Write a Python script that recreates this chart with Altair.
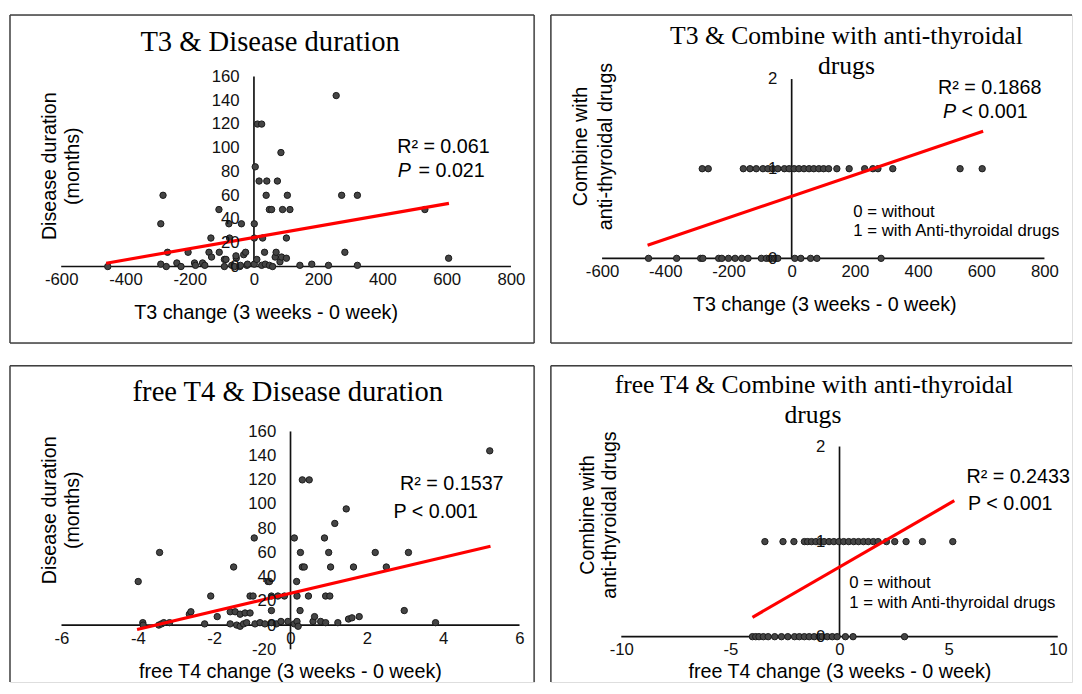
import altair as alt
import pandas as pd

# ---------------- data ----------------
# Panel 1: T3 change vs disease duration (months)
t3_dur_x = [-455, -290, -290, -283, -273, -269, -240, -227, -205, -185,
            -182, -160, -153, -140, -134, -132, -109, -108, -92, -92,
            -87, -78, -76, -69, -60, -55, -56, -44, -39, -42,
            -32, -26, -22, -20, 1, 1, 1, 4, 9, 11,
            24, 16, 24, 27, 33, 35, 38, 40, 48, 48,
            55, 58, 66, 69, 73, 81, 84, 86, 89, 101,
            101, 104, 112, 143, 180, 232, 256, 273, 283, 322,
            322, 532, 606]
t3_dur_y = [0, 2, 36, 60, 0, 12, 3, 0, 12, 3,
            1, 3, 1, 12, 24, 8, 48, 12, 0, 6,
            6, 36, 24, 1, 0, 7, 9, 0, 36, 1,
            10, 12, 1, 2, 36, 24, 2, 84, 6, 120,
            120, 72, 1, 24, 12, 2, 60, 72, 48, 1,
            48, 0, 8, 12, 72, 4, 96, 8, 48, 24,
            7, 60, 48, 1, 2, 1, 144, 60, 12, 60,
            1, 48, 7]
t3_dur_fit_x = [-460, 607]
t3_dur_fit_y = [2.8, 53.2]

# Panel 2: T3 change vs combined anti-thyroidal drugs (0 / 1)
t3_drug_x_without = [-453, -364, -288, -281, -231, -221, -200, -179, -158, -138,
                     -96, -80, -70, -65, -55, -50, -44, 10, 29, 60, 80, 283]
t3_drug_x_with = [-283, -264, -153, -132, -112, -91, -75, -60, -44, -23,
                  -8, 8, 23, 39, 55, 70, 86, 101, 117, 143,
                  182, 231, 257, 273, 320, 533, 603]
t3_drug_fit_x = [-456, 606]
t3_drug_fit_y = [0.146, 1.418]

# Panel 3: free T4 change vs disease duration (months)
ft4_dur_x = [-3.99, -3.87, -3.86, -3.45, -3.43, -3.38, -3.32, -3.17, -2.65, -2.61,
             -2.25, -2.09, -1.92, -1.58, -1.58, -1.49, -1.45, -1.41, -1.32, -1.32,
             -1.23, -1.19, -1.15, -1.06, -1.06, -0.98, -0.95, -0.93, -0.80, -0.67,
             -0.59, -0.55, -0.50, -0.50, -0.50, -0.37, -0.33, -0.25, -0.16, -0.07,
             0.10, 0.16, 0.17, 0.17, 0.20, 0.10, 0.25, 0.26, 0.31, 0.36,
             0.31, 0.49, 0.47, 0.59, 0.63, 0.79, 0.89, 0.92, 0.92, 1.00,
             1.03, 1.05, 1.16, 1.24, 1.46, 1.52, 1.61, 1.65, 1.80, 2.22,
             2.51, 2.98, 3.09, 3.80, 5.22]
ft4_dur_y = [36, 2, 0, 0, 60, 1, 2, 2, 9, 11,
             1, 24, 7, 11, 1, 48, 11, 0, 9, -1,
             1, 10, 2, 24, 10, 24, 72, 1, 2, 1,
             36, 36, 24, 12, 2, 1, 24, 3, 24, 3,
             1, 36, 24, 3, -1, 72, 12, 60, 48, 48,
             120, 120, 24, 3, 7, 3, 72, 24, 2, 60,
             24, 48, 84, 2, 96, 5, 6, 48, 7, 60,
             48, 12, 60, 2, 144]
ft4_dur_fit_x = [-4.02, 5.24]
ft4_dur_fit_y = [-3.6, 65.2]

# Panel 4: free T4 change vs combined anti-thyroidal drugs (0 / 1)
ft4_drug_x_without = [-3.99, -3.84, -3.69, -3.49, -3.27, -2.97, -2.66, -2.37, -2.06, -1.84,
                      -1.61, -1.39, -1.16, -0.93, -0.79, -0.56, -0.33, -0.11, 0.27, 0.62, 2.98]
ft4_drug_x_with = [-3.42, -2.59, -2.09, -1.61, -1.46, -1.28, -1.08, -0.89, -0.71, -0.48,
                   -0.26, -0.03, 0.19, 0.42, 0.65, 0.87, 1.10, 1.32, 1.55, 1.77,
                   2.15, 2.53, 3.05, 3.80, 5.19]
ft4_drug_fit_x = [-3.99, 5.26]
ft4_drug_fit_y = [0.204, 1.43]

# tick labels
t3_ticks = [-600, -400, -200, 0, 200, 400, 600, 800]
ft4_ticks_dur = [-6, -4, -2, 0, 2, 4, 6]
ft4_ticks_drug = [-10, -5, 0, 5, 10]
dur_ticks_t3 = [0, 20, 40, 60, 80, 100, 120, 140, 160]
dur_ticks_ft4 = [-20, 0, 20, 40, 60, 80, 100, 120, 140, 160]
drug_ticks = [0, 1, 2]

# ---------------- style / layout ----------------
SANS = "Liberation Sans"
SERIF = "Liberation Serif"
TICK_FS = 17
AXT_FS = 20
ANN_FS = 20
LEG_FS = 17
FRAME_COLOR = "#404040"


def lin_domain(p_lo, p_hi, v_lo, v_hi, size):
    """domain so that v_lo sits p_lo px and v_hi sits p_hi px from the low edge"""
    upp = (v_hi - v_lo) / (p_hi - p_lo)
    lo = v_lo - p_lo * upp
    return [lo, lo + size * upp], upp


def one_row():
    return alt.Chart(alt.Data(values=[{}]))


class Panel:
    def __init__(self, left, top, w, h):
        self.left, self.top, self.w, self.h = left, top, w, h

    def txt(self, s, x, y, size, font=SANS, angle=0, align="left", italic=False):
        return one_row().mark_text(
            text=s, font=font, fontSize=size, angle=angle, align=align,
            baseline="middle", color="#000",
            fontStyle="italic" if italic else "normal",
        ).encode(x=alt.value(x - self.left), y=alt.value(y - self.top))

    def edges(self, sides):
        w, h = self.w, self.h
        seg = {"left": (0, 0, 0, h), "right": (w, 0, w, h),
               "top": (0, 0, w, 0), "bottom": (0, h, w, h)}
        out = []
        for s in sides:
            x1, y1, x2, y2 = seg[s]
            out.append(one_row().mark_rule(color=FRAME_COLOR, strokeWidth=1.5).encode(
                x=alt.value(x1), x2=alt.value(x2), y=alt.value(y1), y2=alt.value(y2)))
        return out

    def build(self, points, fit_x, fit_y, xticks, yticks, xcal, ycal, texts, sides):
        # xcal: absolute pixel x of first / last x tick ; ycal: absolute pixel y of first / last y tick
        xdom, xupp = lin_domain(xcal[0] - self.left, xcal[1] - self.left,
                                xticks[0], xticks[-1], self.w)
        ydom, yupp = lin_domain(self.top + self.h - ycal[0], self.top + self.h - ycal[1],
                                yticks[0], yticks[-1], self.h)
        x0_px = (0 - xdom[0]) / xupp
        y0_px = self.h - (0 - ydom[0]) / yupp

        xs = alt.Scale(domain=xdom, nice=False, zero=False)
        ys = alt.Scale(domain=ydom, nice=False, zero=False)
        common = dict(domain=False, ticks=False, tickSize=0, grid=False, title=None,
                      labelFont=SANS, labelFontSize=TICK_FS, labelColor="#111",
                      labelFlush=False, labelOverlap=False, zindex=1,
                      labelExpr="'' + datum.value")
        xaxis = alt.Axis(values=xticks, orient="bottom", offset=-(self.h - y0_px),
                         labelPadding=13.4, labelBaseline="middle", **common)
        yaxis = alt.Axis(values=yticks, orient="left", offset=-x0_px,
                         labelPadding=15, labelAlign="right", labelBaseline="middle", **common)

        def X(f):
            return alt.X(f, type="quantitative", scale=xs, axis=xaxis)

        def Y(f):
            return alt.Y(f, type="quantitative", scale=ys, axis=yaxis)

        hline = alt.Chart(pd.DataFrame({"a": [min(xticks)], "b": [max(xticks)], "y": [0]})).mark_rule(
            color="#111", strokeWidth=1.7).encode(x=X("a"), x2="b:Q", y=Y("y"))
        vline = alt.Chart(pd.DataFrame({"x": [0], "a": [min(yticks)], "b": [max(yticks)]})).mark_rule(
            color="#111", strokeWidth=1.7).encode(x=X("x"), y=Y("a"), y2="b:Q")
        pts = alt.Chart(points).mark_circle(
            size=42, color="#454545", stroke="#1a1a1a", strokeWidth=1, opacity=1
        ).encode(x=X("x"), y=Y("y"))
        fit = alt.Chart(pd.DataFrame({"x": fit_x, "y": fit_y})).mark_line(
            color="#ff0000", strokeWidth=3.2).encode(x=X("x"), y=Y("y"))
        layers = self.edges(sides) + [hline, vline, pts, fit] + texts
        return alt.layer(*layers).properties(width=self.w, height=self.h)


def xy_frame(xv, yv):
    assert len(xv) == len(yv)
    return pd.DataFrame({"x": xv, "y": yv})


def drug_frame(x_without, x_with):
    return pd.DataFrame({"x": x_without + x_with,
                         "y": [0] * len(x_without) + [1] * len(x_with)})


# frames (absolute page pixels; the chart starts at the 8px page margin)
P1 = Panel(8, 8, 532, 333)
P2 = Panel(553, 8, 529, 333)
P3 = Panel(8, 360, 532, 321)
P4 = Panel(553, 360, 529, 321)

c1 = P1.build(
    xy_frame(t3_dur_x, t3_dur_y), t3_dur_fit_x, t3_dur_fit_y,
    t3_ticks, dur_ticks_t3, (60, 516.5), (263.3, 70.5),
    [
        P1.txt("T3 & Disease duration", 272, 35.8, 29, font=SERIF, align="center"),
        P1.txt("Disease duration", 48.3, 161.5, AXT_FS, angle=270, align="center"),
        P1.txt("(months)", 71.7, 161.5, AXT_FS, angle=270, align="center"),
        P1.txt("R² = 0.061", 401, 141.7, ANN_FS),
        P1.txt("P", 401.7, 166.7, ANN_FS, italic=True),
        P1.txt("= 0.021", 422.7, 166.7, ANN_FS),
        P1.txt("T3 change (3 weeks - 0 week)", 268, 311, AXT_FS, align="center"),
    ],
    ["left", "top", "right", "bottom"],
)

c2 = P2.build(
    drug_frame(t3_drug_x_without, t3_drug_x_with), t3_drug_fit_x, t3_drug_fit_y,
    t3_ticks, drug_ticks, (605, 1054), (255, 73),
    [
        P2.txt("T3 & Combine with anti-thyroidal", 853, 29.3, 26, font=SERIF, align="center"),
        P2.txt("drugs", 853, 60, 26, font=SERIF, align="center"),
        P2.txt("Combine with", 584, 141.5, AXT_FS, angle=270, align="center"),
        P2.txt("anti-thyroidal drugs", 609.5, 141.5, AXT_FS, angle=270, align="center"),
        P2.txt("R² = 0.1868", 946, 81.7, ANN_FS),
        P2.txt("P", 951, 106.7, ANN_FS, italic=True),
        P2.txt("< 0.001", 969.7, 106.7, ANN_FS),
        P2.txt("0 = without", 860, 208, LEG_FS),
        P2.txt("1 = with Anti-thyroidal drugs", 860, 227.5, LEG_FS),
        P2.txt("T3 change (3 weeks - 0 week)", 831, 302.7, AXT_FS, align="center"),
    ],
    ["left", "top", "bottom"],
)

c3 = P3.build(
    xy_frame(ft4_dur_x, ft4_dur_y), ft4_dur_fit_x, ft4_dur_fit_y,
    ft4_ticks_dur, dur_ticks_ft4, (60.3, 525.2), (647.8, 426.7),
    [
        P3.txt("free T4 & Disease duration", 290, 386.7, 29, font=SERIF, align="center"),
        P3.txt("Disease duration", 48.3, 506.7, AXT_FS, angle=270, align="center"),
        P3.txt("(months)", 71.7, 506.7, AXT_FS, angle=270, align="center"),
        P3.txt("R² = 0.1537", 404, 480, ANN_FS),
        P3.txt("P < 0.001", 397.3, 508.3, ANN_FS),
        P3.txt("free T4 change (3 weeks - 0 week)", 292.7, 670.5, AXT_FS, align="center"),
    ],
    ["left", "top", "right"],
)

c4 = P4.build(
    drug_frame(ft4_drug_x_without, ft4_drug_x_with), ft4_drug_fit_x, ft4_drug_fit_y,
    ft4_ticks_drug, drug_ticks, (624.5, 1067.5), (635, 442),
    [
        P4.txt("free T4 & Combine with anti-thyroidal", 820, 380, 26, font=SERIF, align="center"),
        P4.txt("drugs", 819, 410, 26, font=SERIF, align="center"),
        P4.txt("Combine with", 590.5, 511.5, AXT_FS, angle=270, align="center"),
        P4.txt("anti-thyroidal drugs", 613, 511.5, AXT_FS, angle=270, align="center"),
        P4.txt("R² = 0.2433", 974.8, 473.3, ANN_FS),
        P4.txt("P < 0.001", 976.5, 500, ANN_FS),
        P4.txt("0 = without", 856, 581, LEG_FS),
        P4.txt("1 = with Anti-thyroidal drugs", 856, 600.7, LEG_FS),
        P4.txt("free T4 change (3 weeks - 0 week)", 846.4, 671, AXT_FS, align="center"),
    ],
    ["left", "top"],
)

chart = alt.vconcat(
    alt.hconcat(c1, c2, spacing=13),
    alt.hconcat(c3, c4, spacing=13),
    spacing=19,
).properties(
    padding={"left": 0, "top": 0, "right": 0, "bottom": 0}
).configure_view(
    stroke=None
).configure(background="white")

chart.save("out.html", embed_options={"renderer": "svg", "actions": False})
